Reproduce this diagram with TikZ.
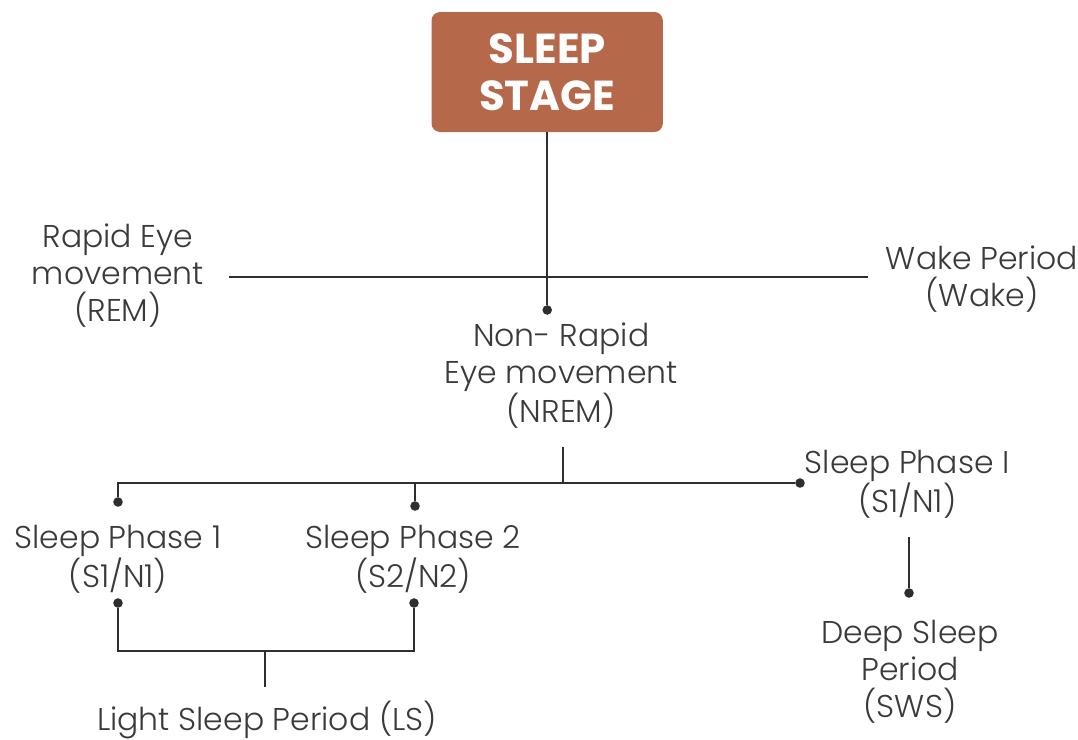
\documentclass[tikz,border=0pt]{standalone}
\usepackage{fontspec}
\setmainfont{Poppins}[UprightFont=* Light,BoldFont=* Bold]
\newfontfamily\titlefont{Poppins}
\usepackage{tikz}
\usetikzlibrary{positioning,calc}
\definecolor{slpbrown}{HTML}{B5694A}
\definecolor{slpdark}{HTML}{2E2E2E}
\definecolor{slptext}{HTML}{3A3A3A}
\tikzset{
  stagebox/.style={rounded corners=6pt,fill=slpbrown,text=white,align=center,minimum width=5.78cm,minimum height=3cm,font=\titlefont\bfseries\fontsize{29.8}{33.4}\selectfont},
  lbl/.style={align=center,text=slptext,inner sep=0pt,font=\fontsize{22.4}{26.3}\selectfont},
  ln/.style={draw=slpdark,line width=1.4pt},
  dot/.style={circle,fill=slpdark,inner sep=0pt,minimum size=6.8pt},
}
\begin{document}
\begin{tikzpicture}
  \useasboundingbox (0,0) rectangle (26.95,-18.5);
  % top box
  \node[stagebox] (stage) at (13.68,-1.8) {SLEEP\\STAGE};
  % labels
  \node[lbl] (rem)  at (2.95,-6.9)   {Rapid Eye\\movement\\(REM)};
  \node[lbl] (wake) at (24.55,-6.98) {Wake Period\\(Wake)};
  \node[lbl] (nrem) at (14.03,-9.4)  {Non- Rapid\\Eye movement\\(NREM)};
  \node[lbl] (sp1)  at (2.95,-13.98) {Sleep Phase 1\\(S1/N1)};
  \node[lbl] (sp2)  at (10.33,-13.98) {Sleep Phase 2\\(S2/N2)};
  \node[lbl] (spi)  at (22.68,-12.1) {Sleep Phase I\\(S1/N1)};
  \node[lbl] (deep) at (22.75,-16.8) {Deep Sleep\\Period\\(SWS)};
  \node[lbl] (ls)   at (6.675,-18.0) {Light Sleep Period (LS)};
  % dots
  \foreach \n/\p in {d-nrem/{13.68,-7.75}, d-spi/{20.0,-12.075}, d-sp1t/{2.95,-12.55}, d-sp2t/{10.375,-12.65},
                     d-sp1b/{2.95,-15.075}, d-sp2b/{10.35,-15.075}, d-deep/{22.725,-14.825}} {
     \node[dot] (\n) at (\p) {};
  }
  \coordinate (rem-end)   at (5.725,-6.925);
  \coordinate (wake-end)  at (21.7,-6.925);
  \coordinate (nrem-stem) at (14.08,-11.18);
  \coordinate (ls-mid)    at (6.625,-16.275);
  \coordinate (ls-stem)   at (6.625,-17.175);
  \coordinate (spi-stem)  at (22.725,-13.425);
  % connectors
  \draw[ln] (stage.south) -- (d-nrem);
  \draw[ln] (rem-end) -- (wake-end);
  \draw[ln] (nrem-stem) -- (nrem-stem |- d-spi);
  \draw[ln] (d-sp1t) |- (d-spi);
  \draw[ln] (d-sp2t) -- (d-sp2t |- d-spi);
  \draw[ln] (d-sp1b) |- (ls-mid) -| (d-sp2b);
  \draw[ln] (ls-mid) -- (ls-stem);
  \draw[ln] (spi-stem) -- (d-deep);
\end{tikzpicture}
\end{document}
